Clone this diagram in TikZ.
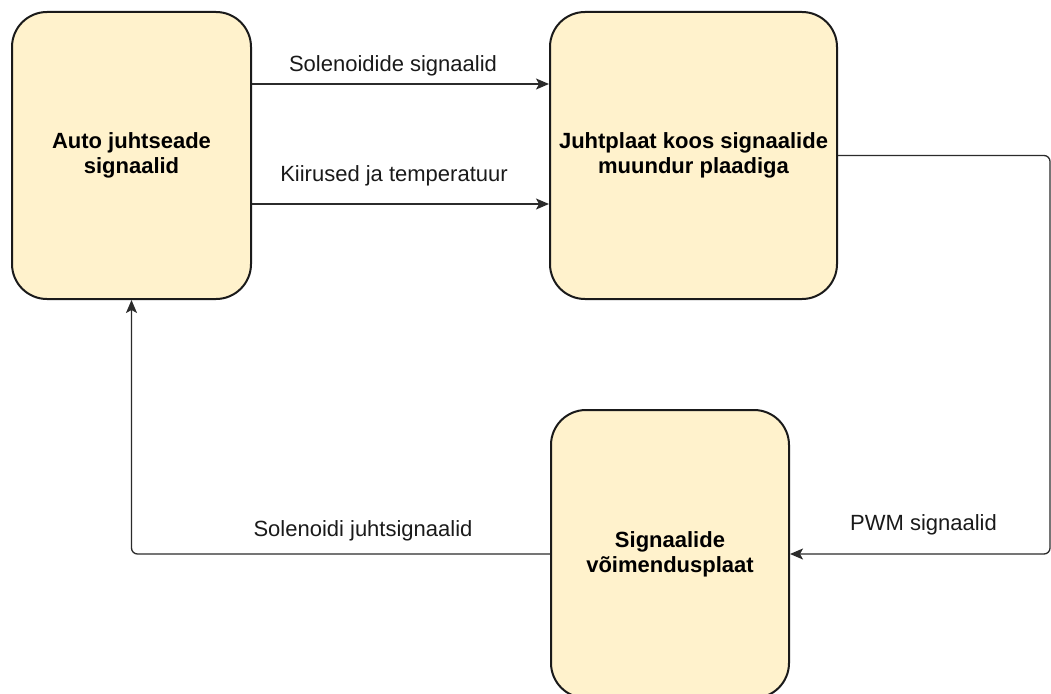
\documentclass[tikz,border=0pt]{standalone}
\usepackage{fontspec}
\setmainfont{Liberation Sans}
\usetikzlibrary{arrows.meta}
\definecolor{boxfill}{HTML}{FFF2CC}
\definecolor{boxline}{HTML}{1A1A1A}
\definecolor{wire}{HTML}{2B2B2B}
\begin{document}
\begin{tikzpicture}[x=1pt,y=-1pt,
  block/.style={draw=boxline,fill=boxfill,line width=2pt,rounded corners=35pt,
    inner sep=0pt,align=center,font=\fontsize{22}{25}\selectfont\bfseries},
  wirelabel/.style={inner sep=0pt,anchor=base,text=boxline,font=\fontsize{22}{25}\selectfont},
  link/.style={draw=wire,line width=1.3pt,rounded corners=6pt,
    -{Stealth[length=13pt,width=11pt,inset=3pt]}}]
  \useasboundingbox (0,0) rectangle (1051,693);
  \begin{scope}
    \clip (0,0) rectangle (1051,693);

    % three boards
    \node[block,minimum width=239pt,minimum height=287pt] (auto) at (131.5,155.5)
      {Auto juhtseade\\signaalid};
    \node[block,minimum width=287pt,minimum height=287pt] (juht) at (693.5,155.5)
      {Juhtplaat koos signaalide\\muundur plaadiga};
    \node[block,minimum width=238pt,minimum height=288pt] (voim) at (670,554)
      {Signaalide\\võimendusplaat};

    % return path on the right side
    \coordinate (rtop) at (1050,155.5);
    \coordinate (rbot) at (1050,554);

    % signal lines
    \draw[link] ([yshift=71.5pt]auto.east) -- ([yshift=71.5pt]juht.west);
    \draw[link] ([yshift=-48.5pt]auto.east) -- ([yshift=-48.5pt]juht.west);
    \draw[link] (juht.east) -- (rtop) -- (rbot) -- (voim.east);
    \draw[link] (voim.west) -| (auto.south);

    % line labels
    \node[wirelabel] (l1) at (393,71) {Solenoidide signaalid};
    \node[wirelabel] (l2) at (394,181) {Kiirused ja temperatuur};
    \node[wirelabel] (l3) at (923.5,530) {PWM signaalid};
    \node[wirelabel] (l4) at (363,536) {Solenoidi juhtsignaalid};
  \end{scope}
\end{tikzpicture}
\end{document}
